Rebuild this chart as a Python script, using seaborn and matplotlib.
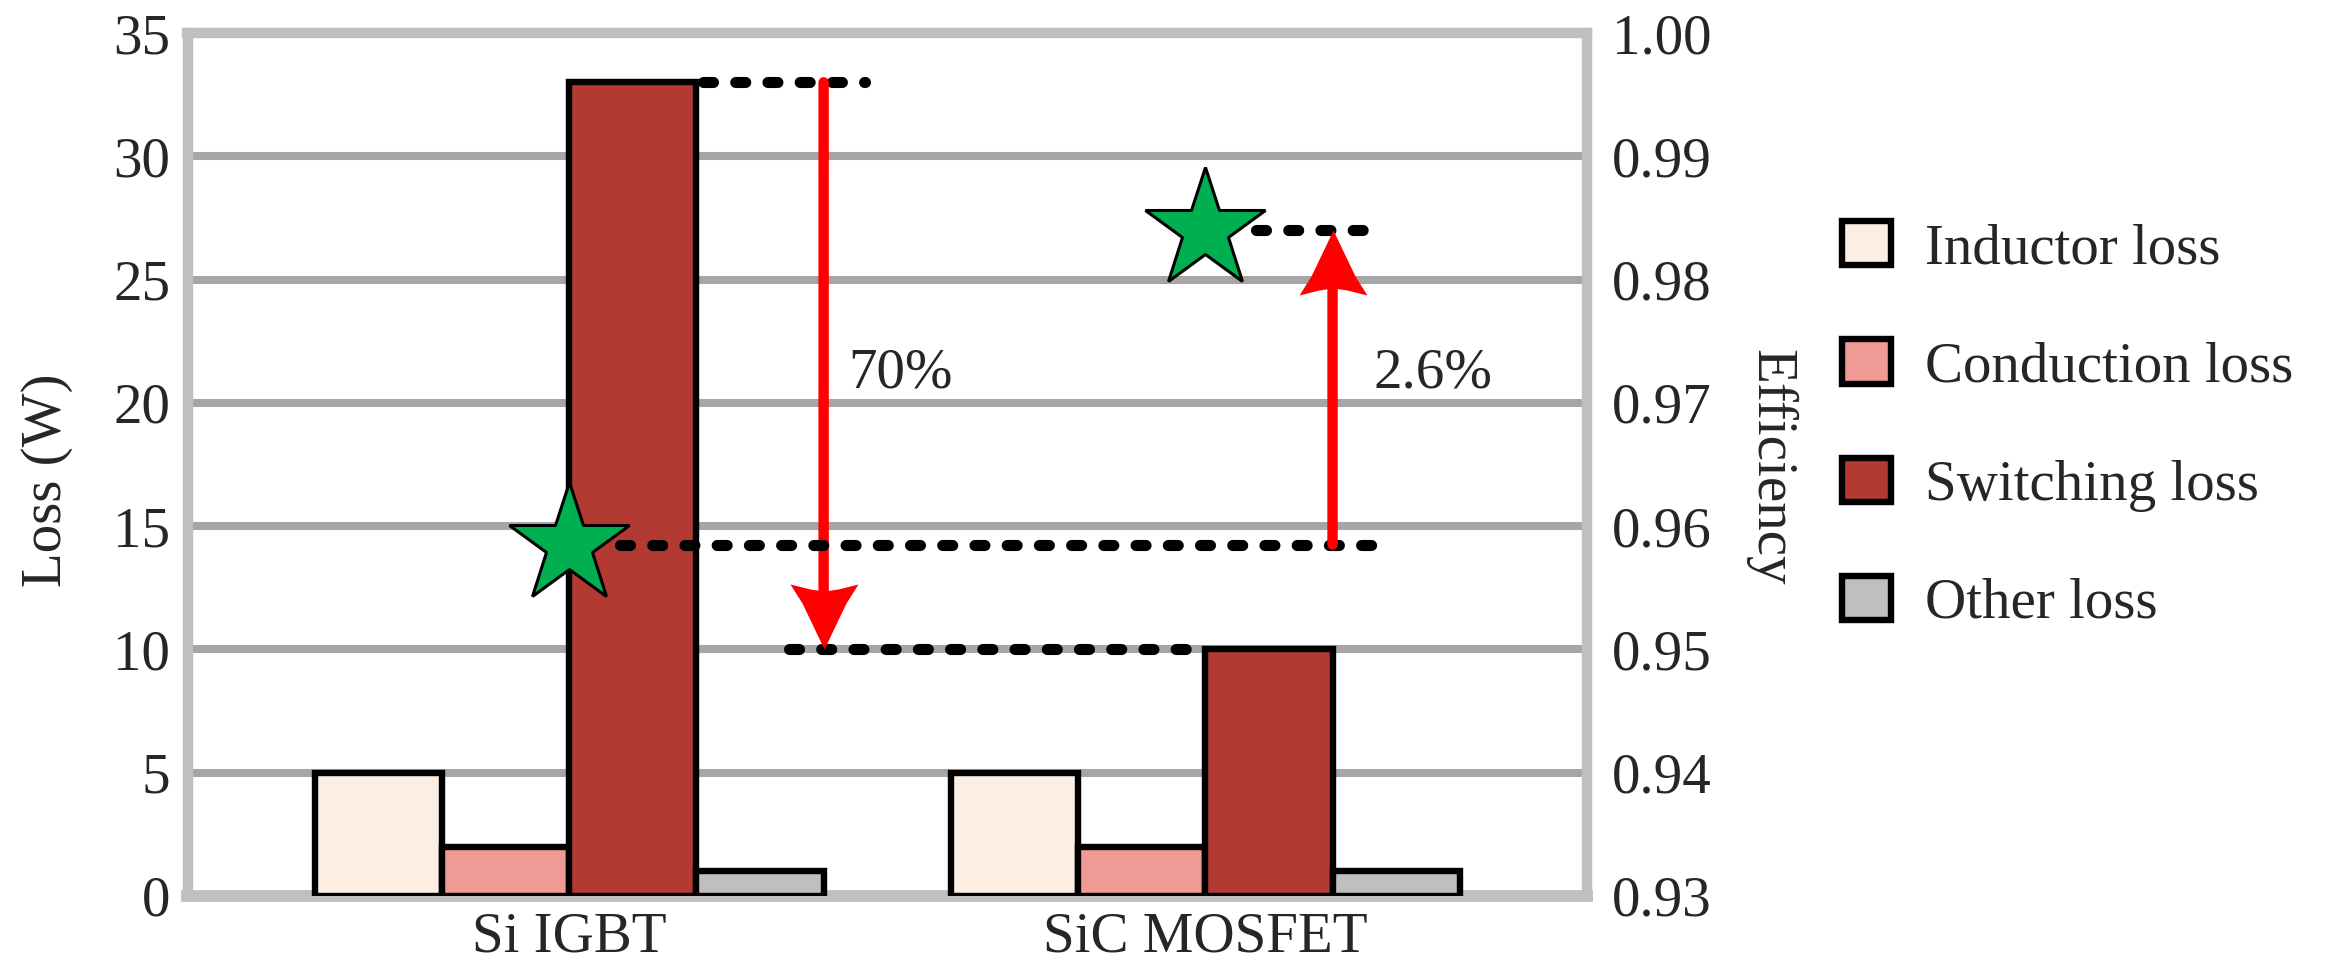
import matplotlib
matplotlib.use('Agg')
import matplotlib.pyplot as plt
from matplotlib.patches import Patch
import pandas as pd
import seaborn as sns

# Values
devices = ['Si IGBT', 'SiC MOSFET']
loss_types = ['Inductor loss', 'Conduction loss', 'Switching loss', 'Other loss']
inductor_loss = [5, 5]
conduction_loss = [2, 2]
switching_loss = [33, 10]
other_loss = [1, 1]
efficiency = [0.9585, 0.984]
loss_ticks = [0, 5, 10, 15, 20, 25, 30, 35]
eff_ticks = [0.93, 0.94, 0.95, 0.96, 0.97, 0.98, 0.99, 1.00]
loss_drop_label = '70%'
eff_gain_label = '2.6%'

colors = ['#fdeee3', '#ef9a95', '#b33a33', '#bfbfbf']

# Long table for seaborn
rows = []
for i, dev in enumerate(devices):
    for name, vals in zip(loss_types, [inductor_loss, conduction_loss, switching_loss, other_loss]):
        rows.append({'device': dev, 'type': name, 'loss': vals[i]})
df = pd.DataFrame(rows)

sns.set_style('white')
plt.rcParams['font.family'] = ['Liberation Serif', 'DejaVu Serif']
FS = 41

fig = plt.figure(figsize=(23.46, 9.77), dpi=100)
ax = fig.add_axes([187.5 / 2346, 1 - 896 / 977, 1399.5 / 2346, 863 / 977])

sns.barplot(data=df, x='device', y='loss', hue='type', order=devices, hue_order=loss_types,
            palette=colors, saturation=1, edgecolor='black', linewidth=4.6,
            errorbar=None, width=0.8, legend=False, ax=ax)
for p in ax.patches:
    p.set_zorder(3)

ax.set_xlim(-0.6, 1.6)
ax.set_ylim(0, 35)
ax.set_yticks(loss_ticks)
ax.set_xlabel('')
ax.set_ylabel('Loss (W)', fontsize=FS, va='center')
ax.yaxis.set_label_coords(-0.1004, 0.482)
ax.tick_params(axis='y', length=0, labelsize=FS, pad=12.5)
ax.tick_params(axis='x', length=0, labelsize=FS, pad=11)
ax.set_axisbelow(True)
ax.yaxis.grid(True, color='#a6a6a6', linewidth=5.8)
ax.xaxis.grid(False)
for side, s in ax.spines.items():
    s.set_visible(True)
    s.set_color('#bfbfbf')
    s.set_linewidth(8.5 if side == 'bottom' else 7.5)

# Efficiency axis
ax2 = ax.twinx()
ax2.set_ylim(0.93, 1.00)
ax2.set_yticks(eff_ticks)
ax2.set_yticklabels([f'{t:.2f}' for t in eff_ticks])
ax2.tick_params(axis='y', length=0, labelsize=FS, pad=18)
ax2.set_ylabel('Efficiency', fontsize=FS, rotation=270, va='center')
ax2.yaxis.set_label_coords(1.1307, 0.497)
for s in ax2.spines.values():
    s.set_visible(False)
ax2.grid(False)

dot_style = dict(color='black', lw=8, dashes=(0.9, 2.0), dash_capstyle='round', zorder=4)

# Guide lines at the switching-loss levels
ax.plot([0.21, 0.465], [switching_loss[0]] * 2, **dot_style)
ax.plot([0.346, 0.975], [switching_loss[1]] * 2, **dot_style)
# Guide lines at the efficiency levels
ax2.plot([0.08, 1.263], [efficiency[0]] * 2, **dot_style)
ax2.plot([1.08, 1.255], [efficiency[1]] * 2, **dot_style)

# Arrowhead shape (tip at origin), notched back
head_up = [(0, 0), (22, -46), (34, -65), (14, -60), (0, -58), (-14, -60), (-34, -65), (-22, -46), (0, 0)]
head_down = [(x, -y) for x, y in head_up]
head_ms = 93.6

# Down arrow: switching loss reduction
ax.annotate('', xy=(0.4, switching_loss[1]), xytext=(0.4, switching_loss[0]),
            arrowprops=dict(arrowstyle='-', color='red', lw=7.5, shrinkA=0, shrinkB=32), zorder=5)
ax.plot([0.4], [switching_loss[1]], marker=head_down, ms=head_ms, color='red', mew=0, zorder=6)
ax.text(0.438, 20.64, loss_drop_label, fontsize=FS, ha='left', va='baseline', zorder=6)

# Up arrow: efficiency gain
ax2.annotate('', xy=(1.2, efficiency[1]), xytext=(1.2, efficiency[0]),
             arrowprops=dict(arrowstyle='-', color='red', lw=7.5, shrinkA=0, shrinkB=32), zorder=5)
ax2.plot([1.2], [efficiency[1]], marker=head_up, ms=head_ms, color='red', mew=0, zorder=6)
ax.text(1.265, 20.64, eff_gain_label, fontsize=FS, ha='left', va='baseline', zorder=6)

# Efficiency stars
ax2.plot([0, 1], efficiency, ls='none', marker='*', ms=91, mfc='#00b050', mec='black', mew=2.2, zorder=7)

# Legend
handles = [Patch(facecolor=c, edgecolor='black', linewidth=4.6, label=l) for c, l in zip(colors, loss_types)]
fig.legend(handles=handles, loc='center left', bbox_to_anchor=(0.785, 0.5645), frameon=False,
           fontsize=FS, handlelength=0.87, handleheight=0.82, handletextpad=0.6,
           labelspacing=1.13, borderpad=0, borderaxespad=0)

fig.savefig('out.png', dpi=100)
